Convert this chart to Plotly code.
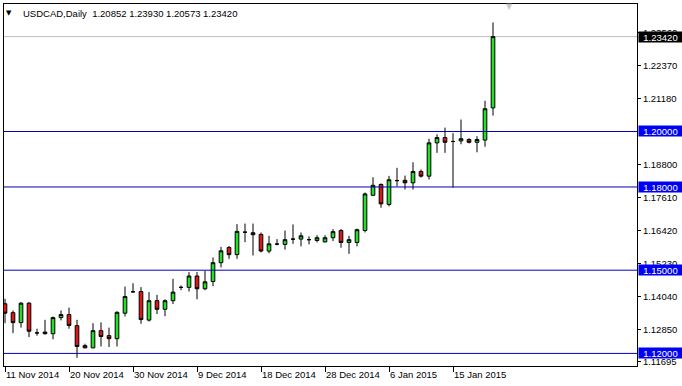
import plotly.graph_objects as go

symbol = "USDCAD"
timeframe = "Daily"

dates = [
    "2014-11-11", "2014-11-12", "2014-11-13", "2014-11-14", "2014-11-16", "2014-11-17",
    "2014-11-18", "2014-11-19", "2014-11-20", "2014-11-21", "2014-11-23", "2014-11-24",
    "2014-11-25", "2014-11-26", "2014-11-27", "2014-11-28", "2014-11-30", "2014-12-01",
    "2014-12-02", "2014-12-03", "2014-12-04", "2014-12-05", "2014-12-07", "2014-12-08",
    "2014-12-09", "2014-12-10", "2014-12-11", "2014-12-12", "2014-12-14", "2014-12-15",
    "2014-12-16", "2014-12-17", "2014-12-18", "2014-12-19", "2014-12-21", "2014-12-22",
    "2014-12-23", "2014-12-24", "2014-12-25", "2014-12-26", "2014-12-28", "2014-12-29",
    "2014-12-30", "2014-12-31", "2015-01-01", "2015-01-02", "2015-01-04", "2015-01-05",
    "2015-01-06", "2015-01-07", "2015-01-08", "2015-01-09", "2015-01-11", "2015-01-12",
    "2015-01-13", "2015-01-14", "2015-01-15", "2015-01-16", "2015-01-18", "2015-01-19",
    "2015-01-20", "2015-01-21",
]

opens = [
    1.1379, 1.1347, 1.1311, 1.1381, 1.1274, 1.1277, 1.1271, 1.1329, 1.1340, 1.1300,
    1.1228, 1.1220, 1.1282, 1.1264, 1.1253, 1.1345, 1.1422, 1.1423, 1.1320, 1.1390,
    1.1359, 1.1390, 1.1438, 1.1438, 1.1479, 1.1433, 1.1459, 1.1527, 1.1582, 1.1556,
    1.1637, 1.1635, 1.1629, 1.1569, 1.1594, 1.1593, 1.1612, 1.1612, 1.1610, 1.1607,
    1.1602, 1.1617, 1.1643, 1.1600, 1.1600, 1.1643, 1.1770, 1.1809, 1.1737, 1.1823,
    1.1824, 1.1815, 1.1856, 1.1839, 1.1959, 1.1978, 1.1964, 1.1966, 1.1971, 1.1961,
    1.1969, 1.20852,
]
highs = [
    1.1397, 1.1355, 1.1385, 1.1385, 1.1289, 1.1321, 1.1333, 1.1355, 1.1365, 1.1321,
    1.1235, 1.1309, 1.1312, 1.1293, 1.1352, 1.1441, 1.1453, 1.1439, 1.1421, 1.1411,
    1.1395, 1.1469, 1.1445, 1.1493, 1.1493, 1.1498, 1.1546, 1.1584, 1.1587, 1.1666,
    1.1668, 1.1668, 1.1636, 1.1624, 1.1612, 1.1643, 1.1665, 1.1636, 1.1622, 1.1626,
    1.1626, 1.1648, 1.1648, 1.1624, 1.1650, 1.1780, 1.1835, 1.1813, 1.1840, 1.1869,
    1.1841, 1.1889, 1.1863, 1.1974, 1.1990, 1.2014, 1.1994, 1.2043, 1.1976, 1.1983,
    1.2111, 1.23930,
]
lows = [
    1.1309, 1.1273, 1.1293, 1.1259, 1.1264, 1.1268, 1.1251, 1.1319, 1.1289, 1.1184,
    1.1219, 1.1219, 1.1225, 1.1223, 1.1225, 1.1333, 1.1420, 1.1307, 1.1315, 1.1342,
    1.1334, 1.1378, 1.1428, 1.1423, 1.1395, 1.1428, 1.1442, 1.1510, 1.1541, 1.1541,
    1.1601, 1.1553, 1.1564, 1.1561, 1.1590, 1.1574, 1.1595, 1.1586, 1.1593, 1.1600,
    1.1600, 1.1605, 1.1581, 1.1559, 1.1586, 1.1636, 1.1768, 1.1725, 1.1730, 1.1802,
    1.1791, 1.1791, 1.1834, 1.1827, 1.1923, 1.1923, 1.1798, 1.1954, 1.1957, 1.1925,
    1.1945, 1.20573,
]
closes = [
    1.1345, 1.1311, 1.1381, 1.1280, 1.1274, 1.1271, 1.1329, 1.1340, 1.1301, 1.1225,
    1.1220, 1.1282, 1.1261, 1.1253, 1.1348, 1.1405, 1.1422, 1.1322, 1.1390, 1.1359,
    1.1390, 1.1421, 1.1438, 1.1479, 1.1433, 1.1458, 1.1527, 1.1570, 1.1556, 1.1640,
    1.1637, 1.1628, 1.1569, 1.1595, 1.1594, 1.1610, 1.1612, 1.1624, 1.1610, 1.1617,
    1.1617, 1.1639, 1.1600, 1.1610, 1.1646, 1.1775, 1.1806, 1.1739, 1.1826, 1.1823,
    1.1815, 1.1856, 1.1839, 1.1959, 1.1978, 1.1961, 1.1964, 1.1974, 1.1961, 1.1971,
    1.2082, 1.23420,
]

date_ticks = ["2014-11-11", "2014-11-20", "2014-11-30", "2014-12-09",
              "2014-12-18", "2014-12-28", "2015-01-06", "2015-01-15"]
date_labels = ["11 Nov 2014", "20 Nov 2014", "30 Nov 2014", "9 Dec 2014",
               "18 Dec 2014", "28 Dec 2014", "6 Jan 2015", "15 Jan 2015"]

price_ticks = [1.2356, 1.2237, 1.2118, 1.1880, 1.1761, 1.1642,
               1.1523, 1.1404, 1.1285, 1.11695]
price_labels = ["1.23560", "1.22370", "1.21180", "1.18800", "1.17610",
                "1.16420", "1.15230", "1.14040", "1.12850", "1.11695"]

levels = [1.20, 1.18, 1.15, 1.12]

FONT = "Liberation Sans, Arial, sans-serif"
LEVEL_COLOR = "rgb(0,0,190)"
LABEL_BLUE = "rgb(0,0,245)"

fig = go.Figure()
fig.add_trace(go.Candlestick(
    x=dates, open=opens, high=highs, low=lows, close=closes,
    increasing=dict(line=dict(color="black", width=1), fillcolor="#22E022"),
    decreasing=dict(line=dict(color="black", width=1), fillcolor="#E01515"),
    whiskerwidth=0, hoverinfo="skip", showlegend=False,
))

last_close = closes[-1]
fig.add_hline(y=last_close, line=dict(color="#BDBDBD", width=1), layer="below")

# level lines as one line trace on an auxiliary linear x axis spanning the plot width
line_x, line_y = [], []
for lv in levels:
    line_x += [0, 1, None]
    line_y += [lv, lv, None]
fig.add_trace(go.Scatter(x=line_x, y=line_y, xaxis="x2", yaxis="y", mode="lines",
                         line=dict(color=LEVEL_COLOR, width=1), hoverinfo="skip",
                         showlegend=False, connectgaps=False))

for lv in levels:
    fig.add_annotation(x=1, xref="paper", xanchor="left", xshift=1, y=lv, yref="y",
                       text=f"{lv:.5f}", showarrow=False, bgcolor=LABEL_BLUE,
                       font=dict(family=FONT, size=9.5, color="white"),
                       width=43, height=10, borderpad=0)

fig.add_annotation(x=1, xref="paper", xanchor="left", xshift=1, y=last_close, yref="y",
                   text=f"{last_close:.5f}", showarrow=False, bgcolor="black",
                   font=dict(family=FONT, size=9.5, color="white"),
                   width=43, height=10, borderpad=0)

fig.add_annotation(x=0.0085, xref="paper", y=0.975, yref="paper", xanchor="center", yanchor="middle",
                   text="▼", showarrow=False, font=dict(family="DejaVu Sans", size=7, color="black"))
header = f"{symbol},{timeframe}  {opens[-1]:.5f} {highs[-1]:.5f} {lows[-1]:.5f} {closes[-1]:.5f}"
fig.add_annotation(x=0.0265, xref="paper", y=0.975, yref="paper", xanchor="left", yanchor="middle",
                   text=header.replace("  ", "&nbsp;&nbsp;"), showarrow=False,
                   font=dict(family=FONT, size=9.5, color="black"))
fig.add_annotation(x=0.798, xref="paper", y=0.994, yref="paper", xanchor="center", yanchor="middle",
                   text="▼", showarrow=False, font=dict(family="DejaVu Sans", size=8, color="#C8C8C8"))

fig.update_layout(
    width=682, height=386,
    margin=dict(l=4, r=45, t=4, b=20, autoexpand=False),
    paper_bgcolor="white", plot_bgcolor="white",
    boxgap=0.35,
    font=dict(family=FONT, size=9.5, color="black"),
    xaxis=dict(
        type="category", categoryorder="array", categoryarray=dates,
        range=[-0.125, 79], rangeslider=dict(visible=False),
        showgrid=False, zeroline=False,
        showline=True, linecolor="black", linewidth=1, mirror=True,
        ticks="outside", ticklen=5, tickcolor="black", tickwidth=1,
        tickvals=date_ticks, ticktext=date_labels,
        ticklabelposition="outside right",
        tickfont=dict(family=FONT, size=9.5, color="black"),
        fixedrange=True,
    ),
    xaxis2=dict(overlaying="x", range=[0, 1], visible=False, fixedrange=True),
    yaxis=dict(
        side="right", range=[1.11546, 1.24596],
        showgrid=False, zeroline=False,
        showline=True, linecolor="black", linewidth=1, mirror=True,
        ticks="outside", ticklen=3, tickcolor="black", tickwidth=1,
        tickvals=price_ticks, ticktext=price_labels,
        tickfont=dict(family=FONT, size=9.5, color="black"),
        fixedrange=True,
    ),
)

fig.write_html("out.html")
